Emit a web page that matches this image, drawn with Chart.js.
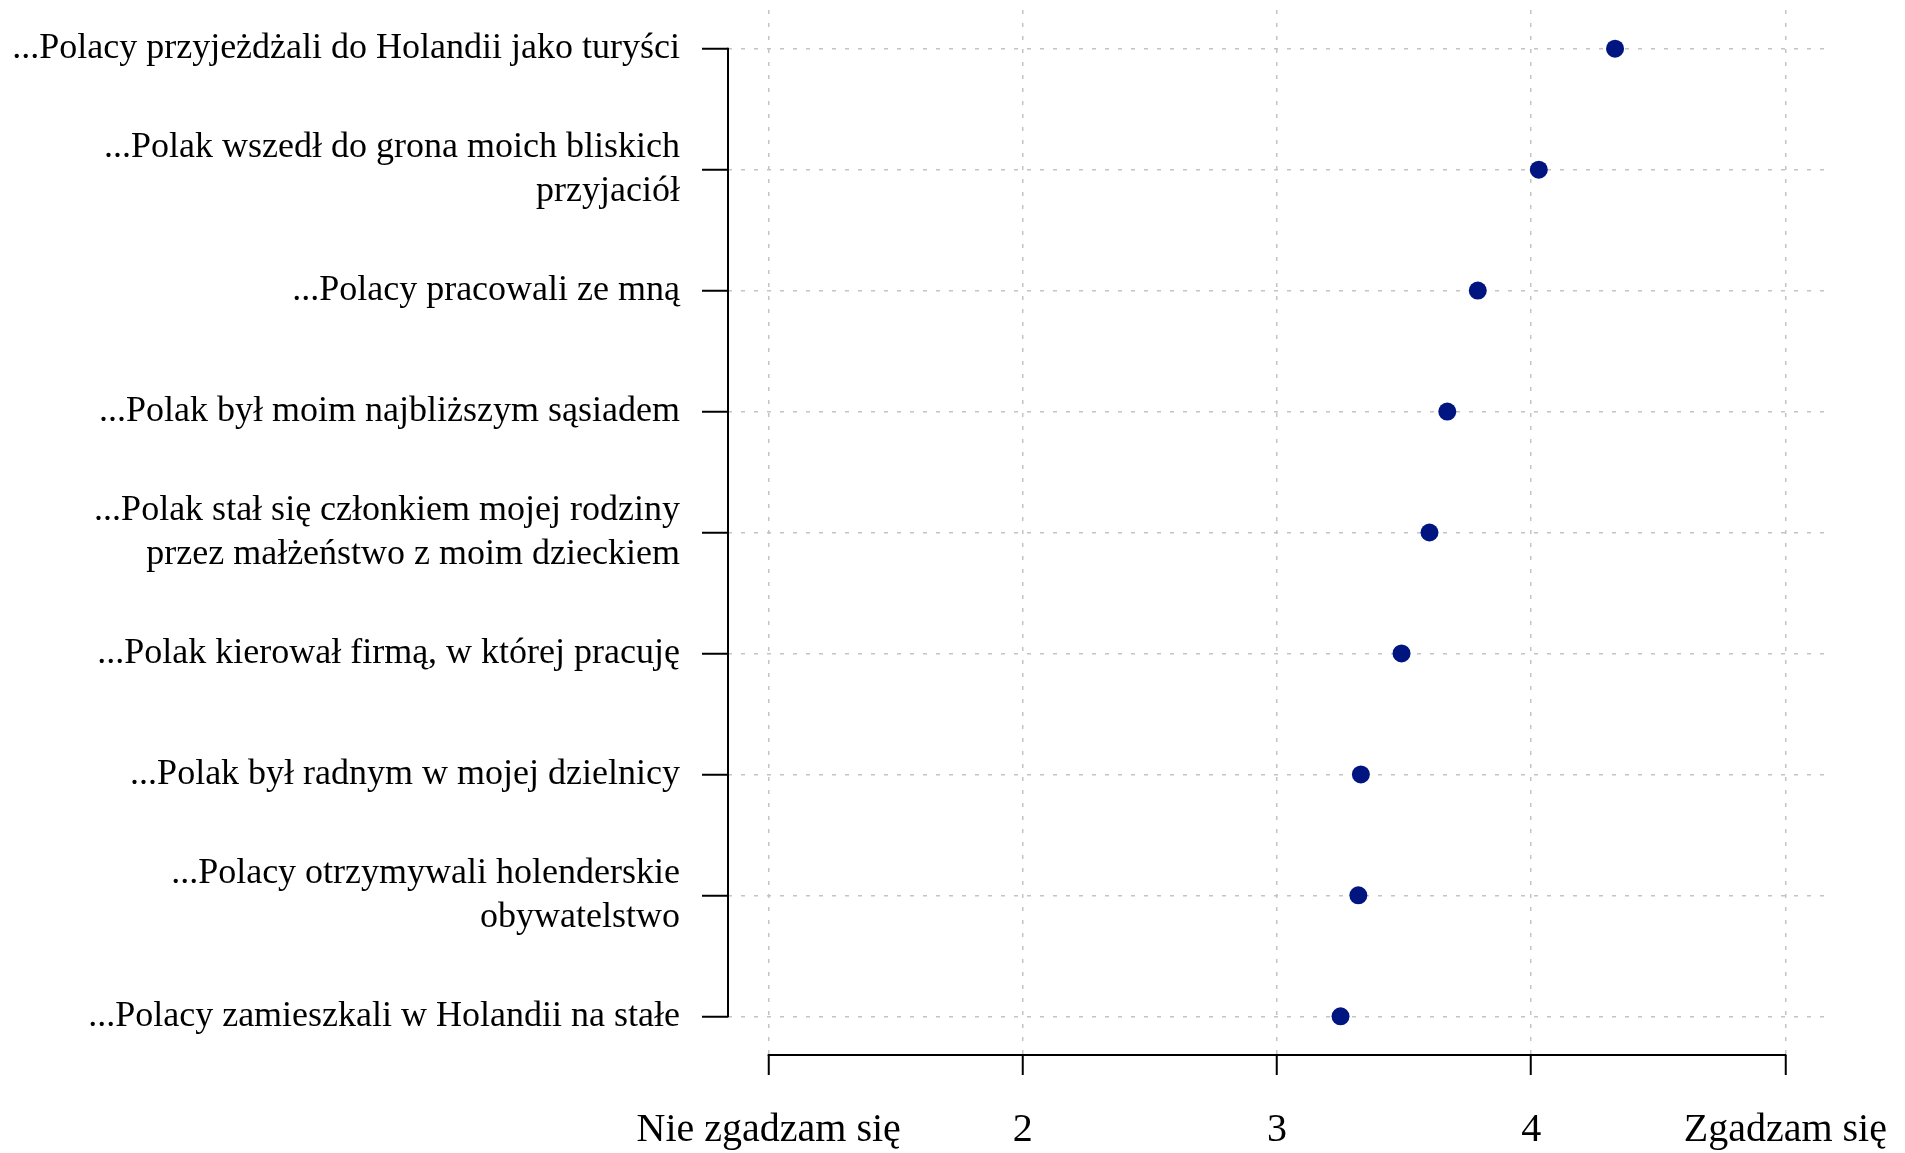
<!DOCTYPE html>
<html><head><meta charset="utf-8">
<script src="https://cdn.jsdelivr.net/npm/chart.js@4"></script>
<style>html,body{margin:0;padding:0;background:#fff;} #wrap{width:1905px;height:1153px;position:relative;}</style>
</head><body><div id="wrap"><canvas id="c" width="1905" height="1153"></canvas></div>
<script>
const categories = [
  ["...Polacy przyjeżdżali do Holandii jako turyści"],
  ["...Polak wszedł do grona moich bliskich", "przyjaciół"],
  ["...Polacy pracowali ze mną"],
  ["...Polak był moim najbliższym sąsiadem"],
  ["...Polak stał się członkiem mojej rodziny", "przez małżeństwo z moim dzieckiem"],
  ["...Polak kierował firmą, w której pracuję"],
  ["...Polak był radnym w mojej dzielnicy"],
  ["...Polacy otrzymywali holenderskie", "obywatelstwo"],
  ["...Polacy zamieszkali w Holandii na stałe"]
];
const values = [4.33, 4.03, 3.79, 3.67, 3.60, 3.49, 3.33, 3.32, 3.25];
const xTickValues = [1, 2, 3, 4, 5];
const xTickLabels = ["Nie zgadzam się", "2", "3", "4", "Zgadzam się"];

const FONT = "'Liberation Serif', 'Times New Roman', serif";

function zeroPad(s) { s.paddingTop = 0; s.paddingBottom = 0; s.paddingLeft = 0; s.paddingRight = 0; }

const axisLines = {
  id: 'axisLines',
  afterDraw(chart) {
    const {ctx, chartArea, scales: {x, y}} = chart;
    ctx.save();
    ctx.strokeStyle = '#000';
    ctx.lineWidth = 2;
    ctx.setLineDash([]);
    ctx.beginPath();
    ctx.moveTo(chartArea.left, y.getPixelForValue(1) - 1);
    ctx.lineTo(chartArea.left, y.getPixelForValue(categories.length) + 1);
    ctx.moveTo(x.getPixelForValue(xTickValues[0]) - 1, chartArea.bottom);
    ctx.lineTo(x.getPixelForValue(xTickValues[xTickValues.length - 1]) + 1, chartArea.bottom);
    ctx.stroke();
    ctx.restore();
  }
};

new Chart(document.getElementById('c'), {
  type: 'scatter',
  data: {
    datasets: [{
      data: values.map((v, i) => ({x: v, y: i + 1})),
      backgroundColor: '#001580',
      borderWidth: 0,
      pointRadius: 9,
      pointHoverRadius: 9
    }]
  },
  options: {
    responsive: false,
    animation: false,
    events: [],
    layout: {padding: {top: 10, right: 79, left: 0, bottom: 0}},
    plugins: {legend: {display: false}, tooltip: {enabled: false}},
    scales: {
      x: {
        type: 'linear',
        min: 0.84, max: 5.16,
        afterBuildTicks: s => { s.ticks = xTickValues.map(v => ({value: v})); },
        afterFit: s => { s.height = 98; zeroPad(s); },
        grid: {color: '#c4c4c4', lineWidth: 1.5, tickColor: '#000', tickWidth: 2, tickLength: 20, tickBorderDash: []},
        border: {display: false, dash: [4, 9]},
        ticks: {
          autoSkip: false, maxRotation: 0, padding: 31, color: '#000',
          font: {family: FONT, size: 40, lineHeight: 1.2},
          callback: (v) => { const i = xTickValues.indexOf(v); return i >= 0 ? xTickLabels[i] : ''; }
        }
      },
      y: {
        type: 'linear',
        reverse: true,
        min: 0.68, max: 9.32,
        afterBuildTicks: s => { s.ticks = categories.map((c, i) => ({value: i + 1})); },
        afterFit: s => { s.width = 728; zeroPad(s); },
        grid: {color: '#c4c4c4', lineWidth: 1.5, tickColor: '#000', tickWidth: 2, tickLength: 26, tickBorderDash: []},
        border: {display: false, dash: [4, 9]},
        ticks: {
          autoSkip: false, padding: 22, color: '#000',
          font: {family: FONT, size: 36, lineHeight: 1.22},
          callback: (v) => { const c = categories[Math.round(v) - 1]; return c ? (c.length > 1 ? c : c[0]) : ''; }
        }
      }
    }
  },
  plugins: [axisLines]
});
</script>
</body></html>
